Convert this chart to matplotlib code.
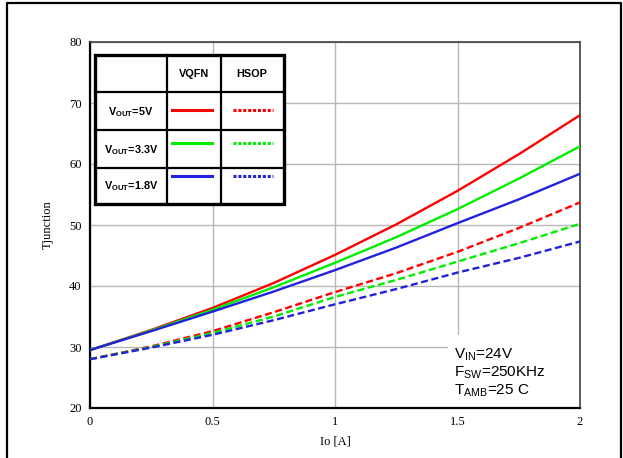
import matplotlib.pyplot as plt
from matplotlib.lines import Line2D
from matplotlib.patches import Rectangle

plt.rcParams['mathtext.fontset'] = 'custom'
plt.rcParams['mathtext.rm'] = 'Liberation Sans'
plt.rcParams['mathtext.bf'] = 'Liberation Sans:bold'

# --- data ---
io = [0, 0.25, 0.5, 0.75, 1.0, 1.25, 1.5, 1.75, 2.0]
vqfn_5v = [29.5, 32.8, 36.4, 40.5, 45.1, 50.1, 55.6, 61.6, 68.0]
vqfn_33v = [29.5, 32.7, 36.1, 39.8, 43.8, 48.0, 52.6, 57.6, 62.9]
vqfn_18v = [29.5, 32.6, 35.8, 39.1, 42.6, 46.3, 50.3, 54.2, 58.4]
hsop_5v = [28.0, 30.1, 32.6, 35.7, 39.0, 42.1, 45.6, 49.5, 53.7]
hsop_33v = [28.0, 30.0, 32.3, 35.0, 38.2, 41.0, 44.0, 47.0, 50.2]
hsop_18v = [28.0, 29.9, 32.0, 34.4, 37.0, 39.5, 42.2, 44.6, 47.3]

row_labels = [r'$\mathbf{V_{OUT}}$=5V', r'$\mathbf{V_{OUT}}$=3.3V', r'$\mathbf{V_{OUT}}$=1.8V']
col_labels = ['VQFN', 'HSOP']
colors = ['#ff0000', '#00ee00', '#2222dd']
x_ticks = [0, 0.5, 1, 1.5, 2]
x_tick_labels = ['0', '0.5', '1', '1.5', '2']
y_ticks = [20, 30, 40, 50, 60, 70, 80]

W, H = 623, 458
fig = plt.figure(figsize=(W / 100, H / 100), dpi=100)


def fx(px):
    return px / W


def fy(py):
    return 1 - py / H


ax = fig.add_axes([fx(90), fy(408), (580 - 90) / W, (408 - 42) / H])

solid = [vqfn_5v, vqfn_33v, vqfn_18v]
dashed = [hsop_5v, hsop_33v, hsop_18v]
for ys, c in zip(solid, colors):
    ax.plot(io, ys, color=c, lw=1.7, zorder=3)
for ys, c in zip(dashed, colors):
    ax.plot(io, ys, color=c, lw=1.7, ls=(0, (3, 1.5)), zorder=3)

ax.set_xlim(0, 2)
ax.set_ylim(20, 80)
ax.set_xticks(x_ticks)
ax.set_xticklabels(x_tick_labels)
ax.set_yticks(y_ticks)
ax.grid(True, color='#b8b8b8', lw=1.0, zorder=0)
ax.set_axisbelow(True)
ax.tick_params(length=0, pad=6, labelsize=9)
for lab in ax.get_xticklabels() + ax.get_yticklabels():
    lab.set_family('Liberation Serif')
for s in ['left', 'bottom']:
    ax.spines[s].set_linewidth(1.6)
    ax.spines[s].set_color('black')
for s in ['top', 'right']:
    ax.spines[s].set_linewidth(1.2)
    ax.spines[s].set_color('#404040')

ax.set_xlabel('Io [A]', family='Liberation Serif', fontsize=9, labelpad=5)
ax.set_ylabel('Tjunction', family='Liberation Serif', fontsize=9, labelpad=11)

# white box behind the operating conditions
ax.add_patch(Rectangle((1.46, 20), 0.54, 12, facecolor='white', edgecolor='none', zorder=1.5))
cond = [r'V$_{\mathrm{IN}}$=24V', r'F$_{\mathrm{SW}}$=250KHz', r'T$_{\mathrm{AMB}}$=25 C']
for i, t in enumerate(cond):
    fig.text(fx(454), fy(358 + 18 * i), t, family='Liberation Sans', fontsize=11,
             va='baseline', ha='left')

# legend table drawn in figure pixels
tl, tr, tt, tb = 95, 284, 55, 204
cols = [167, 221]
rows = [92, 130, 168]
fig.add_artist(Rectangle((fx(tl), fy(tb)), (tr - tl) / W, (tb - tt) / H,
                         facecolor='white', edgecolor='black', lw=2.4, zorder=5))
for cx in cols:
    fig.add_artist(Line2D([fx(cx), fx(cx)], [fy(tt), fy(tb)], color='black', lw=1.6, zorder=6))
for ry in rows:
    fig.add_artist(Line2D([fx(tl), fx(tr)], [fy(ry), fy(ry)], color='black', lw=1.6, zorder=6))

fig.text(fx(194), fy(74), col_labels[0], fontsize=7.8, weight='bold', family='Liberation Sans',
         ha='center', va='center', zorder=7)
fig.text(fx(252), fy(74), col_labels[1], fontsize=7.8, weight='bold', family='Liberation Sans',
         ha='center', va='center', zorder=7)
label_y = [112, 150, 186]
sample_y = [110, 143, 176]
for lab, c, ly, sy in zip(row_labels, colors, label_y, sample_y):
    fig.text(fx(131), fy(ly), lab, fontsize=7.8, weight='bold', family='Liberation Sans',
             ha='center', va='center', zorder=7)
    fig.add_artist(Line2D([fx(172), fx(212)], [fy(sy), fy(sy)], color=c, lw=2.2, zorder=7))
    fig.add_artist(Line2D([fx(233), fx(273)], [fy(sy), fy(sy)], color=c, lw=2.2,
                          ls=(0, (1, 0.6)), zorder=7))

# outer frame (top, left, right)
fig.add_artist(Line2D([fx(7), fx(7), fx(621), fx(621)], [0, fy(3), fy(3), 0],
                      color='black', lw=1.6))

fig.savefig('out.png', dpi=100)
